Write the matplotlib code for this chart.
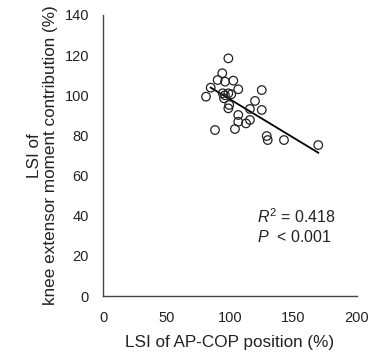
import matplotlib
matplotlib.use("Agg")
import matplotlib.pyplot as plt
import numpy as np

plt.rcParams['font.family'] = ['Liberation Sans', 'DejaVu Sans']
plt.rcParams['mathtext.fontset'] = 'custom'
plt.rcParams['mathtext.rm'] = 'Liberation Sans'
plt.rcParams['mathtext.it'] = 'Liberation Sans:italic'

# Data
lsi_apcop = [98.7, 93.9, 90.3, 96.1, 102.6, 84.8, 106.5, 125.0, 81.1, 94.3,
             98.7, 95.3, 119.7, 99.4, 98.7, 115.7, 125.0, 106.5, 106.5, 115.7,
             112.6, 88.2, 103.9, 128.9, 129.7, 142.5, 169.5, 96.0, 101.0]
lsi_knee = [118.4, 111.0, 107.6, 106.8, 107.3, 103.8, 103.0, 102.6, 99.3, 101.0,
            101.0, 98.5, 97.2, 95.2, 93.5, 93.2, 92.7, 90.2, 86.8, 87.7,
            86.0, 82.7, 83.2, 79.7, 77.7, 77.7, 75.2, 100.0, 100.5]
fit_slope = -0.383
fit_intercept = 136.3
fit_x_range = [84.8, 169.5]
x_ticks = [0, 50, 100, 150, 200]
y_ticks = [0, 20, 40, 60, 80, 100, 120, 140]

fig = plt.figure(figsize=(3.71, 3.54), dpi=100)
ax = fig.add_axes([103/371, 1 - 296/354, (357 - 103)/371, (296 - 15)/354])

fx = np.array(fit_x_range)
ax.plot(fx, fit_slope * fx + fit_intercept, color='black', lw=1.3, zorder=2)
ax.scatter(lsi_apcop, lsi_knee, s=38, facecolors='none', edgecolors='#222222',
           linewidths=0.9, zorder=3)

ax.set_xlim(0, 200)
ax.set_ylim(0, 140)
ax.set_xticks(x_ticks)
ax.set_yticks(y_ticks)
ax.tick_params(length=0, labelsize=10.5, colors='#222222')
ax.tick_params(axis='y', pad=10)
ax.tick_params(axis='x', pad=11)
for s in ['top', 'right']:
    ax.spines[s].set_visible(False)
for s in ['left', 'bottom']:
    ax.spines[s].set_color('#444444')
    ax.spines[s].set_linewidth(1.0)

ax.set_xlabel('LSI of AP-COP position (%)', fontsize=12.3, color='#222222', labelpad=7)
ax.set_ylabel('LSI of\nknee extensor moment contribution (%)', fontsize=12.3,
              color='#222222', labelpad=5, linespacing=1.05)

ax.text(121.3, 36.4, r'$R^2$ = 0.418', fontsize=11.5, color='#222222', va='baseline',
        ha='left')
ax.text(121.3, 26.9, r'$P$  < 0.001', fontsize=11.5, color='#222222', va='baseline',
        ha='left')

fig.savefig('out.png', dpi=100)
